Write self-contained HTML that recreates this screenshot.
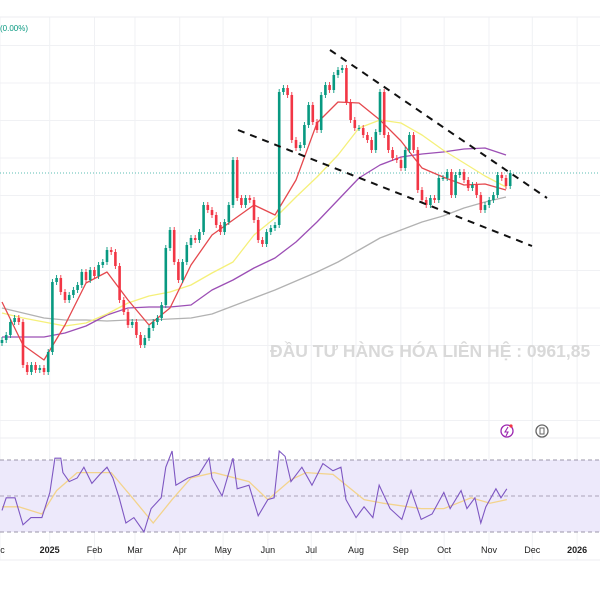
<!DOCTYPE html>
<html><head><meta charset="utf-8"><style>
html,body{margin:0;padding:0;background:#fff;}
svg{display:block;font-family:"Liberation Sans","DejaVu Sans",sans-serif;}
</style></head><body>
<svg id="chart" width="600" height="600" viewBox="0 0 600 600">
  <rect width="600" height="600" fill="#ffffff"/>
  <g id="grid"></g>
  <rect x="0" y="460" width="600" height="72" fill="#ede9fb"/>
  <line x1="0" y1="460" x2="600" y2="460" stroke="#9a95a8" stroke-dasharray="4,3"/>
  <line x1="0" y1="496" x2="600" y2="496" stroke="#aaa4b8" stroke-dasharray="4,3"/>
  <line x1="0" y1="532" x2="600" y2="532" stroke="#9a95a8" stroke-dasharray="4,3"/>
  <line x1="0" y1="438" x2="600" y2="438" stroke="#eceef2"/>
  <line x1="0" y1="560" x2="600" y2="560" stroke="#eceef2"/>
  <text x="270" y="357" font-size="17.5" font-weight="bold" fill="#d9d9d9">ĐẦU TƯ HÀNG HÓA LIÊN HỆ : 0961,85</text>
  <line x1="0" y1="173" x2="600" y2="173" stroke="#26a69a" stroke-width="0.8" stroke-dasharray="1,2"/>
  <text x="0" y="31" font-size="8" fill="#089981">(0.00%)</text>
  <g id="mas"></g>
  <g id="candles"></g>
  <g id="trend">
    <line x1="330" y1="50" x2="547" y2="198" stroke="#111" stroke-width="2" stroke-dasharray="7,6"/>
    <line x1="238" y1="130" x2="532" y2="246" stroke="#111" stroke-width="2" stroke-dasharray="7,6"/>
  </g>
  <g id="rsi"></g>
  <g id="xaxis"></g>
  <g>
    <circle cx="507" cy="431" r="6" fill="none" stroke="#9c27b0" stroke-width="1.3"/>
    <path d="M508 427 L505 432 L508 432 L506 436" fill="none" stroke="#9c27b0" stroke-width="1.1"/>
    <circle cx="511" cy="426" r="1.6" fill="#f23645"/>
  </g>
  <g>
    <circle cx="542" cy="431" r="6" fill="none" stroke="#666" stroke-width="1.3"/>
    <rect x="540" y="428" width="4" height="6" fill="none" stroke="#666" stroke-width="1"/>
  </g>
</svg>
<script>
// candle closes (price units), one per 2 trading days
const closes = [60,65,78,82,78,35,28,35,30,32,28,48,118,122,108,100,105,110,115,128,120,130,124,135,138,150,148,134,100,88,75,78,65,55,62,72,78,82,95,152,170,138,120,138,155,162,160,168,195,190,185,175,168,178,195,240,202,195,202,200,180,160,156,168,172,175,308,312,305,260,252,255,275,295,278,270,305,315,310,325,330,332,298,280,272,272,265,260,250,268,308,265,250,242,240,232,250,265,250,210,200,195,202,200,222,222,228,205,225,228,220,212,215,205,190,195,200,205,225,222,214,227];
const maIdx = [0,5,10,15,20,25,30,35,40,45,50,55,60,65,70,75,80,85,90,95,100,105,110,115,120];
const ma20 = [98,55,40,75,117,128,100,75,92,135,165,180,195,185,220,277,298,297,280,259,232,223,215,216,210];
const ma50 = [87,82,78,74,77,86,97,104,108,115,127,138,165,182,203,223,245,272,280,277,265,250,237,224,213];
const ma100 = [63,63,63,67,74,85,92,93,93,95,110,120,132,142,158,178,200,222,235,243,246,248,251,252,245];
const ma200 = [92,87,82,80,80,79,80,80,81,82,86,94,102,110,119,128,138,150,162,170,178,184,192,198,203];
const rsiIdx = [0,1,3.1,5,6.9,9.5,11.4,12.6,14,14.5,16,17.9,19.5,21.4,23.3,25,26.4,27.9,29.5,31.4,33.8,35.5,37.9,39,40.5,41.4,44.3,46.9,49.3,50,52.4,55,56,58.8,61,63.3,64.8,66,67.4,68.8,71.4,73.8,76.4,78.8,80.7,81.9,84.3,86.2,88.3,89.8,92.4,95.2,97.4,99.8,102.4,105.2,106.7,109.3,110.7,112.6,114,115.2,117.6,118.8,120.2];
const rsiVals = [42,49,49,34,38,38,52,71,71,63,58,60,66,57,62,66,60,49,35,38,30,43,49,66,75,56,60,62,71,60,50,71,54,56,39,48,49,75,72,58,66,56,68,64,66,48,38,44,38,56,43,37,53,37,40,52,43,53,43,49,35,44,54,49,54];
const rsiMaIdx = [0,4,9.5,13,17.9,26,31.4,36,40.5,45,50.5,58.8,63.3,68.8,72.4,78.8,86.2,90.7,99.8,105.2,111.7,116.2,120.2];
const rsiMaVals = [44,44,40,53,63,63,48,35,48,60,63,58,48,59,63,62,48,46,43,43,49,46,48];
const monthLabels = ["ec","2025","Feb","Mar","Apr","May","Jun","Jul","Aug","Sep","Oct","Nov","Dec","2026"];
const monthDays = [0,33,64,92,123,153,184,214,245,276,306,337,367,398];

const NS="http://www.w3.org/2000/svg";
function X(i){return 2+i*4.2;}
function Y(p){return 400-p;}
function dayX(d){return 2+d*1.445+(d===0?-2:0);}
function rsiY(v){return 496-(v-50)*1.8;}
function mk(tag,attrs,parent){const e=document.createElementNS(NS,tag);for(const k in attrs)e.setAttribute(k,attrs[k]);parent.appendChild(e);return e;}

const grid=document.getElementById('grid');
for(let k=0;k<11;k++){const y=45.5+k*37.5;
  const l=mk('line',{x1:0,x2:600,y1:y,y2:y,stroke:'#f0f1f4'},grid);
  
  }
for(let k=0;k<monthDays.length;k++){const x=dayX(monthDays[k]);
  const l=mk('line',{x1:x,x2:x,y1:17,y2:560,stroke:'#f0f1f4'},grid);
  
  }
mk('line',{x1:0,x2:600,y1:17,y2:17,stroke:'#eceef2'},grid);

const mas=document.getElementById('mas');
function maLine(vals,color,name){const pts=maIdx.map((ix,k)=>X(ix)+','+Y(vals[k])).join(' ');
  const p=mk('polyline',{points:pts,fill:'none',stroke:color,'stroke-width':1.3,'stroke-linejoin':'round'},mas);
  
  }
maLine(ma200,'#b2b2b2','ma200-line');
maLine(ma100,'#9c4fb5','ma100-line');
maLine(ma50,'#f5f07a','ma50-line');
maLine(ma20,'#e5484d','ma20-line');

const cg=document.getElementById('candles');
for(let i=0;i<closes.length;i++){
  const c=closes[i];const o=i===0?c-3:closes[i-1];
  const up=c>=o;const col=up?'#089981':'#f23645';
  const top=Y(Math.max(o,c)),bot=Y(Math.min(o,c));
  const x=X(i);
  const g=mk('g',{},cg);
  
  
  mk('line',{x1:x,x2:x,y1:top-3,y2:bot+3,stroke:col,'stroke-width':0.9},g);
  mk('rect',{x:x-1.3,y:top,width:2.6,height:Math.max(1,bot-top),fill:col},g);
}

const rg=document.getElementById('rsi');
const rma=mk('polyline',{points:rsiMaIdx.map((ix,k)=>X(ix)+','+rsiY(rsiMaVals[k])).join(' '),fill:'none',stroke:'#f3d38c','stroke-width':1.3},rg);


const rl=mk('polyline',{points:rsiIdx.map((ix,k)=>X(ix)+','+rsiY(rsiVals[k])).join(' '),fill:'none',stroke:'#7e57c2','stroke-width':1.1},rg);



const xa=document.getElementById('xaxis');
for(let k=0;k<monthLabels.length;k++){
  const t=mk('text',{x:dayX(monthDays[k]),y:553,'font-size':9,'text-anchor':'middle',fill:'#222','font-weight':(monthLabels[k].length===4?'bold':'normal')},xa);
  t.textContent=monthLabels[k];
  
  
}
</script>
</body></html>
